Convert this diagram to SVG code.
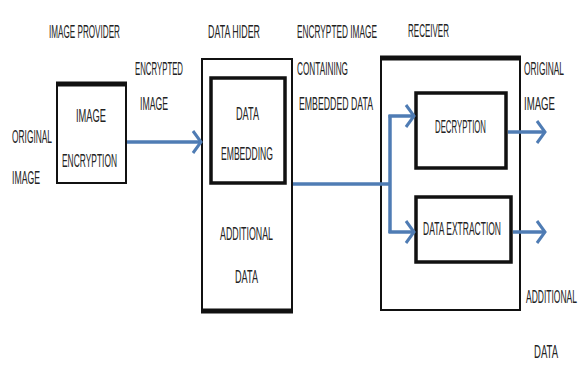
<svg xmlns="http://www.w3.org/2000/svg" width="579" height="367" viewBox="0 0 579 367">
<style>
text{font-family:"Liberation Sans Narrow","Liberation Sans",Arial,sans-serif;font-size:17.5px;fill:#222}
.box{fill:#fff;stroke:#111;stroke-width:2}
.inner{fill:#fff;stroke:#111;stroke-width:3.5}
.thick{stroke:#111;stroke-width:5}
.conn{fill:none;stroke:#4f7cb4;stroke-width:3.5}
</style>
<defs>
<marker id="arr" markerUnits="userSpaceOnUse" markerWidth="14" markerHeight="24" refX="10" refY="12" orient="auto">
<path d="M2,1 L10,12 L2,23" fill="none" stroke="#4f7cb4" stroke-width="3"/>
</marker>
</defs>
<rect width="579" height="367" fill="#fff"/>

<g id="image-provider">
<text x="49" y="38" textLength="71" lengthAdjust="spacingAndGlyphs">IMAGE PROVIDER</text>
</g>
<g id="original-image-in">
<text x="12" y="143" textLength="40" lengthAdjust="spacingAndGlyphs">ORIGINAL</text>
<text x="12" y="184" textLength="28" lengthAdjust="spacingAndGlyphs">IMAGE</text>
</g>
<g id="image-encryption">
<rect class="box" x="57" y="83" width="69" height="100"/>
<line class="thick" x1="56" y1="84" x2="127" y2="84"/>
<text x="76" y="122" textLength="30" lengthAdjust="spacingAndGlyphs">IMAGE</text>
<text x="62" y="167" textLength="55" lengthAdjust="spacingAndGlyphs">ENCRYPTION</text>
</g>
<g id="encrypted-image-label">
<text x="135" y="75" textLength="48" lengthAdjust="spacingAndGlyphs">ENCRYPTED</text>
<text x="140" y="110" textLength="28" lengthAdjust="spacingAndGlyphs">IMAGE</text>
</g>

<g id="data-hider">
<text x="208" y="38" textLength="52" lengthAdjust="spacingAndGlyphs">DATA HIDER</text>
<rect class="box" x="202" y="59" width="90" height="253"/>
<line class="thick" x1="201" y1="311" x2="293" y2="311"/>
<text x="220" y="240" textLength="53" lengthAdjust="spacingAndGlyphs">ADDITIONAL</text>
<text x="235" y="283" textLength="23" lengthAdjust="spacingAndGlyphs">DATA</text>
</g>
<g id="data-embedding">
<rect class="inner" x="211" y="78" width="74" height="105"/>
<text x="236" y="120" textLength="23" lengthAdjust="spacingAndGlyphs">DATA</text>
<text x="221" y="160" textLength="52" lengthAdjust="spacingAndGlyphs">EMBEDDING</text>
</g>
<g id="encrypted-embedded-label">
<text x="297" y="38" textLength="80" lengthAdjust="spacingAndGlyphs">ENCRYPTED IMAGE</text>
<text x="297" y="75" textLength="51" lengthAdjust="spacingAndGlyphs">CONTAINING</text>
<text x="299" y="110" textLength="74" lengthAdjust="spacingAndGlyphs">EMBEDDED DATA</text>
</g>

<g id="receiver">
<text x="408" y="37" textLength="41" lengthAdjust="spacingAndGlyphs">RECEIVER</text>
<rect class="box" x="381" y="57" width="139" height="253"/>
<line class="thick" x1="380" y1="58" x2="521" y2="58"/>
</g>
<g id="decryption">
<rect class="inner" x="416" y="93" width="90" height="75"/>
<text x="435" y="133" textLength="51" lengthAdjust="spacingAndGlyphs">DECRYPTION</text>
</g>
<g id="data-extraction">
<rect class="inner" x="416" y="197" width="95" height="65"/>
<text x="423" y="235" textLength="78" lengthAdjust="spacingAndGlyphs">DATA EXTRACTION</text>
</g>
<g id="original-image-out">
<text x="524" y="75" textLength="40" lengthAdjust="spacingAndGlyphs">ORIGINAL</text>
<text x="524" y="110" textLength="31" lengthAdjust="spacingAndGlyphs">IMAGE</text>
</g>
<g id="additional-data-out">
<text x="526" y="303" textLength="51" lengthAdjust="spacingAndGlyphs">ADDITIONAL</text>
<text x="534" y="358" textLength="24" lengthAdjust="spacingAndGlyphs">DATA</text>
</g>

<g id="connectors">
<line class="conn" x1="127" y1="142" x2="201" y2="142" marker-end="url(#arr)"/>
<line class="conn" x1="293" y1="184" x2="390" y2="184"/>
<line class="conn" x1="390" y1="115" x2="390" y2="233"/>
<line class="conn" x1="388.5" y1="116" x2="414" y2="116" marker-end="url(#arr)"/>
<line class="conn" x1="388.5" y1="232" x2="414" y2="232" marker-end="url(#arr)"/>
<line class="conn" x1="508" y1="132" x2="545" y2="132" marker-end="url(#arr)"/>
<line class="conn" x1="513" y1="232" x2="545" y2="232" marker-end="url(#arr)"/>
</g>
</svg>
